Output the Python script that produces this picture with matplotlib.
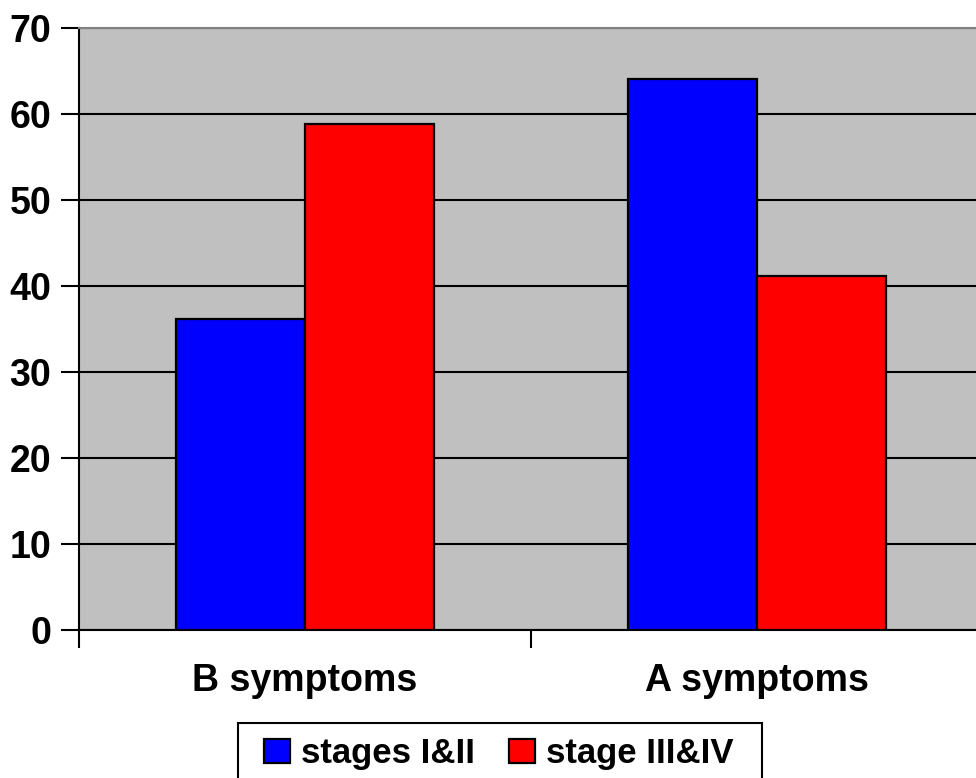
import numpy as np
from matplotlib import pyplot as plt
from matplotlib.patches import Rectangle

categories = ['B symptoms', 'A symptoms']
series_names = ['stages I&II', 'stage III&IV']
early = [36.2, 64.0]
late = [58.8, 41.1]
colors = ['#0000ff', '#ff0000']

plt.rcParams['font.family'] = ['Liberation Sans', 'DejaVu Sans']
plt.rcParams['font.weight'] = 'bold'

fig = plt.figure(figsize=(9.76, 7.78), dpi=100)
ax = fig.add_axes([0.0809, 0.1902, 0.926, 0.774])
ax.set_facecolor('#c0c0c0')

x = np.arange(len(categories))
w = 0.285
b1 = ax.bar(x - w / 2, early, w, color=colors[0], edgecolor='black', linewidth=1.6, label=series_names[0], zorder=3)
b2 = ax.bar(x + w / 2, late, w, color=colors[1], edgecolor='black', linewidth=1.6, label=series_names[1], zorder=3)

ax.set_xlim(-0.5, 1.5)
ax.set_ylim(0, 70)
ax.set_yticks(range(0, 71, 10))
ax.yaxis.grid(True, color='black', linewidth=1.5, zorder=1)
ax.set_axisbelow(True)

# category labels at centers, tick marks between categories
ax.set_xticks([-0.5, 0.5, 1.5])
ax.set_xticklabels([])
ax.set_xticks(x, minor=True)
ax.set_xticklabels(categories, minor=True, fontsize=27, fontweight='bold')
ax.tick_params(axis='x', which='minor', length=0, pad=24)
ax.tick_params(axis='x', which='major', length=13, width=1.5, direction='out')
ax.tick_params(axis='y', length=13, width=1.5, direction='out', labelsize=27, pad=7)
for lab in ax.get_yticklabels():
    lab.set_fontweight('bold')

ax.spines['top'].set_color('#808080')
ax.spines['top'].set_linewidth(1.5)
ax.spines['left'].set_linewidth(1.5)
ax.spines['bottom'].set_linewidth(1.5)
ax.spines['right'].set_visible(False)

# legend box runs off the bottom edge in the original
fig.patches.append(Rectangle((0.2435, -0.05), 0.537, 0.1207, transform=fig.transFigure,
                             facecolor='white', edgecolor='black', linewidth=1.5))
leg = fig.legend(handles=[b1, b2], labels=series_names, loc='center',
                 bbox_to_anchor=(0.511, 0.031), borderaxespad=0, ncol=2, fontsize=25,
                 frameon=False, handlelength=0.75, handleheight=0.7, handletextpad=0.3,
                 columnspacing=1.0, borderpad=0.2)
for t in leg.get_texts():
    t.set_fontweight('bold')

fig.savefig('out.png', dpi=100)
